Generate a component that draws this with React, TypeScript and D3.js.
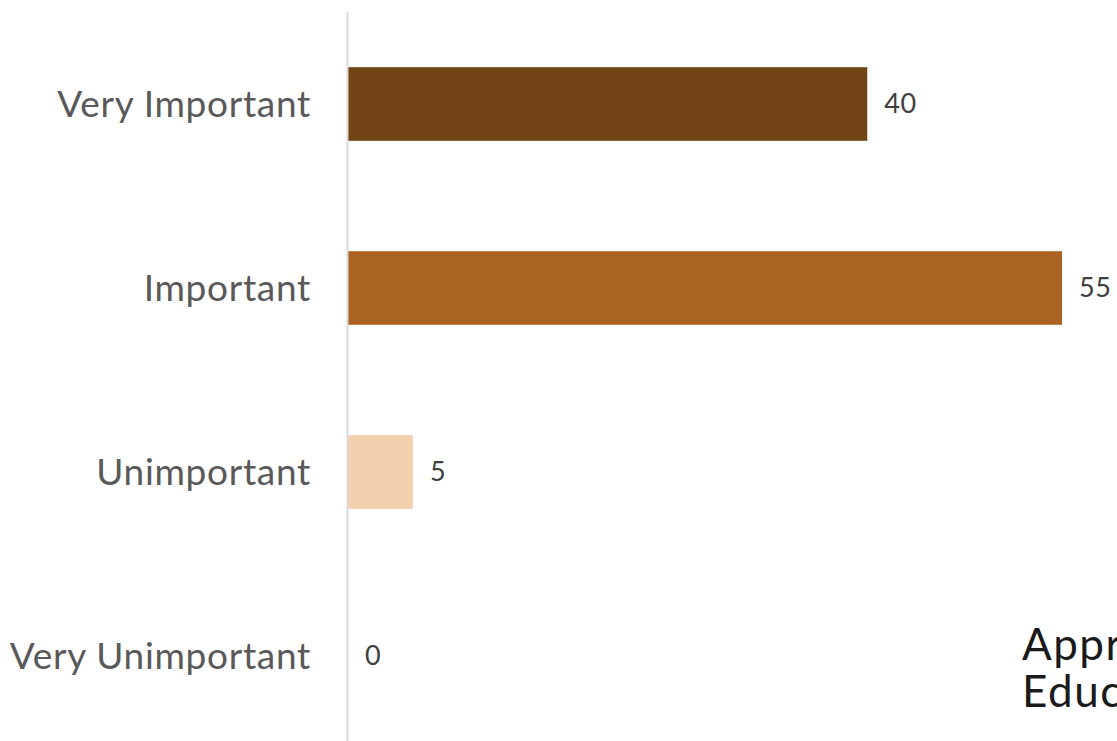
import React from "react";
import * as d3 from "d3";

const categories = ["Very Important", "Important", "Unimportant", "Very Unimportant"];
const values = [40, 55, 5, 0];
const barColors = ["#714315", "#AA6320", "#F2CFAD", "#F2CFAD"];
const titleLines = ["Approaches to", "Education"];

const W = 1117;
const H = 741;
const FONT = "Lato, 'Open Sans', sans-serif";

export default function App() {
  const x = d3.scaleLinear().domain([0, 55]).range([348, 1062]);
  const y = d3
    .scaleBand<string>()
    .domain(categories)
    .range([12, 748])
    .paddingInner(0.6)
    .paddingOuter(0.3);

  return (
    <svg
      width={W}
      height={H}
      style={{ position: "absolute", left: 0, top: 0, background: "#fff" }}
    >
      {categories.map((c, i) => {
        const yc = (y(c) ?? 0) + y.bandwidth() / 2;
        return (
          <g key={c}>
            <rect
              x={x(0)}
              y={y(c)}
              width={x(values[i]) - x(0)}
              height={y.bandwidth()}
              fill={barColors[i]}
            />
            <text
              x={311}
              y={yc}
              dy="0.35em"
              textAnchor="end"
              fontFamily={FONT}
              fontSize={37}
              letterSpacing={0.7}
              fill="#595959"
            >
              {c}
            </text>
            <text
              x={x(values[i]) + 17}
              y={yc}
              dy="0.35em"
              fontFamily={FONT}
              fontSize={27}
              letterSpacing={0.5}
              fill="#404040"
            >
              {values[i]}
            </text>
          </g>
        );
      })}
      <line x1={347.5} x2={347.5} y1={12} y2={H} stroke="#d9d9d9" strokeWidth={2} />
      {titleLines.map((t, i) => (
        <text
          key={t}
          x={1022}
          y={660 + i * 47}
          fontFamily={FONT}
          fontSize={44}
          letterSpacing={1.5}
          fill="#1a1a1a"
        >
          {t}
        </text>
      ))}
    </svg>
  );
}
